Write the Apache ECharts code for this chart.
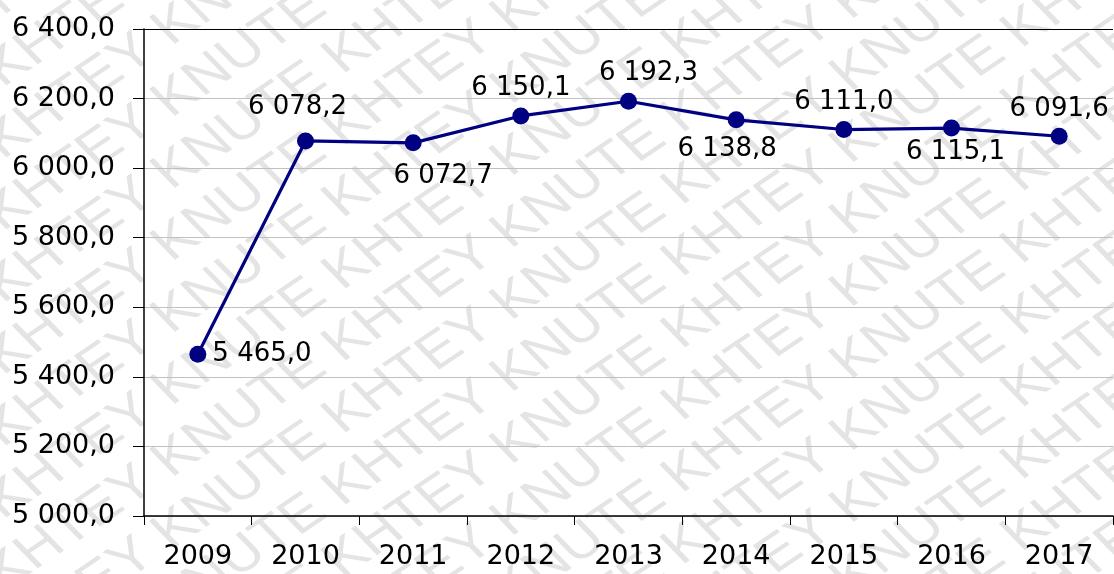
<!DOCTYPE html>
<html>
<head>
<meta charset="utf-8">
<script src="https://cdn.jsdelivr.net/npm/echarts@6/dist/echarts.min.js"></script>
<style>
html,body{margin:0;padding:0;background:#fff;}
#chart{width:1114px;height:574px;}
</style>
</head>
<body>
<div id="chart"></div>
<script>
const categories = ['2009','2010','2011','2012','2013','2014','2015','2016','2017'];
const values = [5465.0, 6078.2, 6072.7, 6150.1, 6192.3, 6138.8, 6111.0, 6115.1, 6091.6];
const yMin = 5000, yMax = 6400, yStep = 200;
const watermarkWords = 'KHTEY KNUTE ';

// label styling (placement only)
const labelPlacement = ['right','top','bottom','top','top','bottom','top','bottom','top'];
const labelShift = [[0,0],[-8,-6],[30,6],[0,0],[20,0],[-9,2],[0,0],[4,-3],[0,0]];

function fmt(v){
  const s = v.toFixed(1);
  let [ip, dp] = s.split('.');
  ip = ip.replace(/\B(?=(\d{3})+(?!\d))/g, ' ');
  return ip + ',' + dp;
}

const FONT = 'DejaVu Sans';

// watermark (drawn in a horizontally stretched group)
const stretch = 1.2;
const theta = 39 * Math.PI / 180;
const vStep = 72;
const longText = watermarkWords.repeat(10);
const wmRows = [];
for (let k = -2; k < 30; k++) {
  const py = k * vStep;
  const back = 1100;
  wmRows.push({
    type: 'text',
    x: -back * Math.cos(theta),
    y: py + back * Math.sin(theta),
    rotation: theta,
    silent: true,
    style: {
      text: longText,
      fill: '#e4e4e4',
      font: '50px "Liberation Sans"',
      textAlign: 'left',
      textVerticalAlign: 'middle'
    }
  });
}

const chart = echarts.init(document.getElementById('chart'), null, {renderer: 'canvas'});
const lineColors = ['#c0c0c0','#c0c0c0','#c0c0c0','#c0c0c0','#c0c0c0','#c0c0c0','#c0c0c0','#000000'];

chart.setOption({
  animation: false,
  backgroundColor: '#ffffff',
  graphic: { elements: [{
    type: 'group', x: 0, y: 0, scaleX: stretch, scaleY: 1, z: -10, silent: true,
    children: wmRows
  }] },
  grid: { left: 144, right: 1, top: 29, bottom: 58, containLabel: false },
  xAxis: {
    type: 'category',
    data: categories,
    boundaryGap: true,
    axisLine: { show: true, lineStyle: { color: '#000', width: 1.5 } },
    axisTick: { show: true, interval: 0, length: 9, lineStyle: { color: '#000', width: 1 } },
    axisLabel: { color: '#000', fontFamily: FONT, fontSize: 27, margin: 27, interval: 0 },
    splitLine: { show: false }
  },
  yAxis: {
    type: 'value',
    min: yMin, max: yMax, interval: yStep,
    axisLine: { show: true, lineStyle: { color: '#000', width: 1.5 } },
    axisTick: { show: true, length: 11, lineStyle: { color: '#000', width: 1 } },
    axisLabel: { color: '#000', fontFamily: FONT, fontSize: 27, margin: 29, formatter: v => fmt(v) },
    splitLine: { show: true, lineStyle: { color: lineColors, width: 1 } }
  },
  series: [{
    type: 'line',
    data: values.map((v, i) => ({
      value: v,
      label: { position: labelPlacement[i], offset: labelShift[i] }
    })),
    symbol: 'circle',
    symbolSize: 17,
    lineStyle: { color: '#000080', width: 3.2 },
    itemStyle: { color: '#000080' },
    label: {
      show: true,
      distance: 6,
      color: '#000',
      fontFamily: FONT,
      fontSize: 26,
      formatter: p => fmt(p.value)
    },
    z: 5
  }]
});
</script>
</body>
</html>
